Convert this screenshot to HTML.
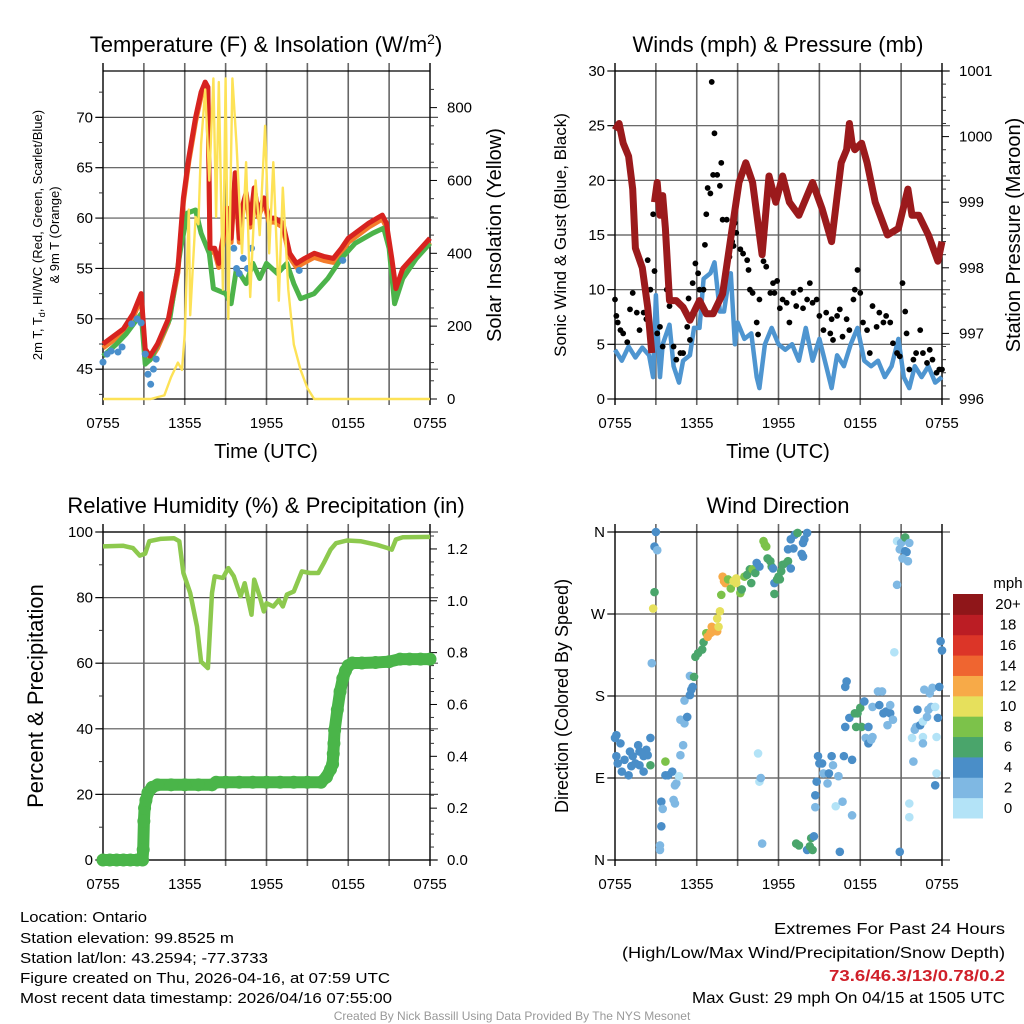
<!DOCTYPE html>
<html><head><meta charset="utf-8"><style>
html,body{margin:0;padding:0;background:#fff;}
svg{display:block;font-family:"Liberation Sans",Arial,sans-serif;}
</style></head><body>
<svg id="c" width="1024" height="1024" viewBox="0 0 1024 1024" xmlns="http://www.w3.org/2000/svg">
<g id="footer">
<text x="20" y="922" font-size="15" textLength="127" lengthAdjust="spacingAndGlyphs">Location: Ontario</text>
<text x="20" y="943" font-size="15" textLength="214" lengthAdjust="spacingAndGlyphs">Station elevation: 99.8525 m</text>
<text x="20" y="963" font-size="15" textLength="248" lengthAdjust="spacingAndGlyphs">Station lat/lon: 43.2594; -77.3733</text>
<text x="20" y="983" font-size="15" textLength="370" lengthAdjust="spacingAndGlyphs">Figure created on Thu, 2026-04-16, at 07:59 UTC</text>
<text x="20" y="1003" font-size="15" textLength="372" lengthAdjust="spacingAndGlyphs">Most recent data timestamp: 2026/04/16 07:55:00</text>
<text x="1005" y="934" font-size="16" text-anchor="end" textLength="231" lengthAdjust="spacingAndGlyphs">Extremes For Past 24 Hours</text>
<text x="1005" y="958" font-size="16" text-anchor="end" textLength="383" lengthAdjust="spacingAndGlyphs">(High/Low/Max Wind/Precipitation/Snow Depth)</text>
<text x="1005" y="981" font-size="16" font-weight="bold" fill="#d0202a" text-anchor="end" textLength="176" lengthAdjust="spacingAndGlyphs">73.6/46.3/13/0.78/0.2</text>
<text x="1005" y="1003" font-size="16" text-anchor="end" textLength="313" lengthAdjust="spacingAndGlyphs">Max Gust: 29 mph On 04/15 at 1505 UTC</text>
<text x="512" y="1020" font-size="12" fill="#999" text-anchor="middle">Created By Nick Bassill Using Data Provided By The NYS Mesonet</text>
</g>
</svg>
<script>
// ---- data (hours since 0755 UTC) ----
const timeLabels=["0755","1355","1955","0155","0755"];
const tempT=[[0,47.5],[0.8,48.3],[1.5,49],[2.2,50.5],[2.8,52.5],[3.1,47],[3.45,46.3],[4,47.5],[4.8,50],[5.5,55],[5.9,62],[6.3,66],[6.8,70],[7.2,72.5],[7.5,73.5],[7.7,73],[7.85,57],[8.2,57],[8.5,55.5],[8.8,58],[9.1,61],[9.4,58],[9.7,64.5],[10,58],[10.2,61],[10.5,62.5],[10.8,59.5],[11.1,63],[11.4,60.5],[11.8,62],[12.2,60],[12.6,60],[13.2,59.5],[13.7,56.5],[14.2,55.5],[14.8,56],[15.5,56.5],[16.2,56.2],[16.9,56],[17.5,57],[18,58],[18.8,58.8],[19.5,59.5],[20.5,60.3],[20.8,59.5],[21.2,56],[21.5,53],[22,55],[23,56.5],[24,58]];
const tempTd=[[0,46.3],[1,47.5],[1.7,48.5],[2.8,50.5],[3.1,45.5],[3.5,46],[4.2,48],[4.9,50],[5.7,57],[6.2,60.5],[6.8,60.8],[7.2,58.5],[7.8,56.5],[8.1,53],[9,52.5],[9.4,51.5],[9.8,55],[10.5,53.5],[11,55.5],[11.5,54],[12,55.5],[12.8,54.5],[13.5,55.5],[14,53.5],[14.5,52],[15.5,52.5],[16.5,54],[17.5,56],[18.5,57.5],[19.8,58.5],[20.6,59],[21,57],[21.4,51.5],[22,54],[23,56],[24,57.5]];
const heatIndex=[[0,45.7],[0.3,46.5],[0.6,46.8],[1.1,46.7],[1.4,47.2],[2.1,49.5],[2.5,50],[2.8,49.6],[3.1,46.5],[3.3,44.5],[3.5,43.5],[3.7,45],[3.9,46],[9.6,57],[9.8,55],[10,54.5],[10.3,56],[10.6,55],[10.9,57],[14.4,54.8],[17.6,55.8]];
const solar=[[0,0],[3.5,0],[4.5,10],[5,60],[5.5,100],[5.8,80],[6,180],[6.3,520],[6.4,230],[6.8,500],[7,480],[7.2,700],[7.5,850],[7.8,600],[8.1,880],[8.3,500],[8.5,870],[8.8,300],[9,880],[9.2,220],[9.5,880],[9.8,700],[10.2,400],[10.5,650],[10.8,280],[11.2,600],[11.5,450],[11.9,750],[12.2,400],[12.5,650],[12.9,270],[13.2,580],[13.6,300],[14,150],[14.5,80],[15,30],[15.5,0],[24,0]];
const pressure=[[0,1000.1],[0.3,1000.2],[0.6,999.9],[1,999.7],[1.3,999.2],[1.5,998.3],[2,998.0],[2.4,997.4],[2.7,996.7],null,[2.9,999.0],[3.1,999.3],[3.3,998.8],[3.5,999.1],[3.7,998.6],[4,997.5],[4.5,997.5],[5,997.4],[5.5,997.2],[6.2,997.5],[6.7,997.3],[7.2,997.3],[7.9,997.6],[8.6,998.6],[9.1,999.3],[9.6,999.6],[10.1,999.3],[10.8,998.2],[11.3,999.4],[11.8,999.0],[12.3,999.4],[12.8,999.0],[13.5,998.8],[14.5,999.3],[15.2,998.9],[15.9,998.4],[16.6,999.6],[17.0,999.8],[17.2,1000.2],[17.4,999.9],[17.6,999.8],[18.1,999.9],[18.5,999.6],[19.1,999.0],[20.0,998.5],[20.8,998.6],[21.5,999.2],[21.8,998.8],[22.3,998.8],[23.0,998.5],[23.7,998.1],[24,998.4]];
const wind=[[0,4.5],[0.5,3.5],[1,4.8],[1.5,3.8],[2,4.7],[2.5,4.0],[2.8,2.0],[3,9.5],[3.3,2],[3.5,5],[4,6.8],[4.3,3],[4.7,1.5],[5,3.5],[5.5,4],[5.8,6.5],[6.2,6.5],[6.5,11],[7,11.5],[7.3,12.5],[7.7,8],[8,8],[8.3,10.5],[8.5,11.5],[8.8,5],[9,7],[9.5,5.5],[10,6],[10.4,2],[10.6,1],[11,5],[11.5,6.5],[12,5],[12.5,4.5],[13,5],[13.5,3.5],[14,6.5],[14.5,3.5],[15,5.5],[15.5,3],[15.9,1],[16.3,4],[16.8,3],[17.3,5],[17.8,6.5],[18.3,3.5],[18.8,3],[19.3,3.5],[19.8,2],[20.3,3],[20.8,5.5],[21.2,2],[21.6,1],[22,3],[22.5,2],[23,3],[23.5,1.5],[24,2]];
const gust=[[0,9.1],[0.1,7.6],[0.2,7],[0.4,6.3],[0.6,6],[0.9,5.2],[1.1,8.2],[1.3,9.7],[1.6,7.9],[1.8,6.3],[2.1,7.9],[2.3,7.3],[2.4,12.7],[2.6,10],[2.8,16.9],[2.9,11.7],[3.1,6],[3.3,6.6],[3.5,4.8],[3.8,10],[4.0,8.5],[4.3,4.8],[4.5,3.6],[4.8,4.2],[5.0,4.2],[5.3,6.6],[5.4,9.2],[5.5,5.4],[5.7,10.6],[5.9,12.4],[6.1,11.5],[6.2,10],[6.5,10],[6.6,14.1],[6.7,16.9],[6.8,19.3],[7.0,18.8],[7.1,29],[7.2,20.5],[7.3,24.3],[7.5,20.5],[7.7,19.5],[7.8,21.6],[7.9,16.4],[8.2,16.4],[8.3,12.7],[8.4,13],[8.6,14.4],[8.7,14],[8.8,16.1],[8.9,15.2],[9.2,13.7],[9.4,13.3],[9.7,12.7],[9.8,11.8],[9.9,10],[10.1,9.7],[10.4,7],[10.5,5.9],[10.6,9.1],[10.9,12.6],[11.1,12.1],[11.4,9.7],[11.6,10.6],[11.7,9.7],[11.9,10.8],[12.1,8.3],[12.3,9.1],[12.6,8.8],[12.8,7],[13.1,9.7],[13.3,8.5],[13.6,10],[13.8,8.3],[14.1,9.1],[14.3,10.6],[14.5,8.8],[14.8,9.1],[15.0,7.6],[15.3,6.3],[15.5,7.9],[15.8,6],[15.9,7.3],[16.0,5.4],[16.3,7.6],[16.5,8.2],[16.7,5.7],[17.0,7.3],[17.2,6.3],[17.5,9.1],[17.6,10],[17.8,11.8],[18.0,9.7],[18.2,7],[18.5,6.3],[18.7,4.2],[18.9,8.5],[19.2,6.6],[19.4,7.9],[19.7,7],[19.9,7.6],[20.2,7],[20.4,5.1],[20.7,4.2],[20.9,3.9],[21.1,10.6],[21.3,8],[21.4,6],[21.6,2.7],[21.9,3.6],[22.1,4.2],[22.4,6.3],[22.6,4.2],[22.9,3.3],[23.1,4.5],[23.3,3.6],[23.6,2.4],[23.8,2.7],[24,2.7]];
const rh=[[0,95.6],[1.5,95.8],[2.2,95.1],[2.7,92.8],[3.1,93.4],[3.4,97.2],[4.2,97.9],[5.2,98.1],[5.6,97.2],[5.9,87.5],[6.4,81.4],[6.9,71.2],[7.2,60.5],[7.7,58.5],[8.0,81.4],[8.2,86.5],[8.8,86],[9.2,89],[9.6,86.5],[10.1,80.4],[10.4,84.4],[10.9,74.8],[11.1,85.5],[11.5,80.4],[11.8,75.8],[12.0,78.3],[12.5,77.3],[12.9,79.3],[13.2,77.3],[13.5,80.9],[14.0,81.9],[14.6,88],[15.2,87.5],[15.8,87.5],[16.2,90.5],[16.7,94.6],[17.1,96.6],[17.9,97.4],[18.9,97.2],[20.1,96.1],[20.9,95.1],[21.2,94.6],[21.5,97.7],[22.0,98.4],[24,98.5]];
const precip=[[0,0],[0.5,0],[1,0],[1.5,0],[2,0],[2.5,0],[2.9,0],[2.95,0.04],[3.0,0.15],[3.05,0.2],[3.15,0.23],[3.3,0.26],[3.6,0.28],[4,0.29],[5,0.29],[6,0.29],[7,0.29],[8,0.29],[8.3,0.3],[9,0.3],[10,0.3],[11,0.3],[12,0.3],[13,0.3],[14,0.3],[15,0.3],[16,0.3],[16.4,0.32],[16.7,0.35],[16.85,0.37],[16.9,0.41],[16.95,0.45],[17.0,0.5],[17.2,0.58],[17.4,0.65],[17.6,0.7],[17.8,0.73],[18.0,0.75],[18.3,0.76],[19,0.76],[20,0.762],[21,0.765],[21.8,0.775],[22.5,0.775],[23.3,0.775],[24,0.775]];
const dirTime=[0,0.1,0.4,0.1,0.2,0.5,1.0,0.7,1.1,1.3,1.7,1.8,2.1,2.3,2.4,1.8,1.5,1.2,2.1,2.6,2.6,2.7,2.8,2.9,2.9,3.0,3.1,3.3,3.3,3.4,3.4,3.5,3.7,3.7,3.9,4.2,4.4,4.5,4.7,4.3,4.4,4.8,5.0,4.8,5.1,5.3,5.1,5.5,5.6,5.7,5.5,5.8,5.9,6.1,6.4,6.5,6.7,6.8,7.0,7.1,7.2,7.5,7.6,7.5,7.7,7.8,7.9,8.0,8.1,8.3,8.5,8.7,8.9,8.9,9.2,9.3,9.5,9.7,9.9,10.0,10.1,10.3,10.4,10.6,10.9,11.0,11.1,11.2,11.4,11.5,11.6,11.7,11.9,12.0,12.1,11.7,12.2,12.3,12.6,12.7,12.9,12.7,12.9,13.1,13.2,13.4,13.8,13.9,14.1,13.7,13.8,10.5,10.6,10.7,10.8,13.3,13.5,14.1,14.3,14.4,14.6,14.5,14.7,14.7,14.8,14.9,15.0,15.2,15.3,15.6,15.7,15.9,16.0,16.2,16.4,16.5,16.7,16.8,16.9,17.0,16.9,17.2,17.4,17.4,17.6,17.7,17.8,18.0,18.1,18.3,18.4,18.6,18.8,18.9,18.6,18.9,19.3,19.6,19.4,19.7,19.9,20.0,20.2,20.4,20.2,20.5,20.7,20.7,20.9,21.0,21.3,21.3,21.4,21.1,21.5,21.6,20.9,21.6,21.6,21.8,21.9,22.0,22.1,22.2,22.4,22.6,22.6,22.6,22.7,22.9,23.0,23.1,23.2,23.3,23.5,23.6,23.6,23.5,23.7,23.8,23.9,24.0];
const dirDeg=[134,137,128,114,106,97,93,110,119,114,126,119,114,121,115,104,106,103,97,134,104,216,276,294,344,360,340,16,11,37,64,56,108,93,93,97,82,84,92,66,62,115,126,154,150,157,175,181,187,190,202,201,223,227,231,239,249,245,249,256,251,251,256,265,273,291,311,306,304,308,298,306,309,304,293,297,311,313,319,304,319,315,326,322,350,346,344,331,328,322,320,304,308,311,308,292,317,324,326,328,320,341,352,342,357,359,348,352,359,336,333,117,86,90,18,18,16,11,15,24,26,11,58,71,86,114,106,106,95,84,95,114,104,59,92,9,64,114,190,196,146,156,110,49,161,146,161,167,146,174,134,128,132,135,146,168,185,185,170,161,163,148,161,154,170,228,302,350,341,348,354,339,338,331,328,348,9,62,47,134,108,143,146,165,148,135,128,152,187,157,165,183,168,189,168,135,95,82,156,190,240,230];
const dirSpeed=[5,5,5,5,5,5,5,5,5,5,5,5,5,5,5,5,5,5,5,5,7,3,11,7,5,5,3,3,3,5,5,3,9,5,5,5,3,3,1,3,3,3,3,3,3,5,3,5,5,5,3,7,7,7,7,7,9,13,13,13,13,13,11,11,11,9,13,13,13,9,9,11,11,11,9,7,9,7,7,7,9,7,5,5,9,9,9,7,7,7,5,5,7,7,7,7,7,7,7,7,5,5,5,5,5,7,5,5,5,5,5,1,1,3,3,7,7,5,7,7,5,7,3,5,5,5,5,5,3,3,5,5,3,1,3,5,3,5,5,5,5,5,5,3,7,7,7,7,7,5,3,5,3,3,5,3,3,3,5,5,5,3,5,3,3,1,3,1,3,3,7,5,5,3,3,3,5,1,1,1,3,3,3,5,5,1,3,1,3,3,3,3,3,3,1,1,1,5,5,5,5,5,5];
const speedBins=["0","2","4","6","8","10","12","14","16","18","20+"];
const binColors=["#b3e3f7","#7fb8e3","#4a8ec8","#4aa56b","#7cc24a","#e6e05c","#f7aa48","#ef6530","#dc3528","#bb1d24","#8f1619"];

const NS="http://www.w3.org/2000/svg";
const svg=document.getElementById('c');
function mk(tag,attrs,parent){const e=document.createElementNS(NS,tag);for(const k in attrs)e.setAttribute(k,attrs[k]);(parent||svg).appendChild(e);return e;}
function txt(s,attrs,parent){const e=mk('text',attrs,parent);e.textContent=s;return e;}

function panel(o){
  const g=mk('g',{});
  
  
  const X=h=>o.x0+(h/24)*(o.x1-o.x0);
  const Y=v=>o.y1-(v-o.lmin)/(o.lmax-o.lmin)*(o.y1-o.y0);
  const R=v=>o.y1-(v-o.rmin)/(o.rmax-o.rmin)*(o.y1-o.y0);
  o.gridVals.forEach(v=>{const yy=Y(v);const l=mk('line',{x1:o.x0-8,x2:o.x1+8,y1:yy,y2:yy,stroke:'#555','stroke-width':1.2},g);});
  for(let i=0;i<=8;i++){const xx=X(i*3);const l=mk('line',{x1:xx,x2:xx,y1:o.y0-8,y2:o.y1+6,stroke:(i==0||i==8)?'#111':'#666','stroke-width':(i==0||i==8)?1.5:1.6},g);}
  mk('line',{x1:o.x0,x2:o.x1,y1:o.y0,y2:o.y0,stroke:'#000','stroke-width':1.2},g);
  mk('line',{x1:o.x0,x2:o.x1,y1:o.y1,y2:o.y1,stroke:'#000','stroke-width':1.2},g);
  o.lTicks.forEach((v,i)=>{const yy=Y(v);mk('line',{x1:o.x0-7,x2:o.x0,y1:yy,y2:yy,stroke:'#000'},g);const t=txt(o.lLabels[i],{x:o.x0-10,y:yy+5,'font-size':15,'text-anchor':'end'},g);});
  (o.lMinor||[]).forEach(v=>{const yy=Y(v);mk('line',{x1:o.x0-4,x2:o.x0,y1:yy,y2:yy,stroke:'#333'},g);});
  if(o.rTicks){o.rTicks.forEach((v,i)=>{const yy=R(v);mk('line',{x1:o.x1,x2:o.x1+7,y1:yy,y2:yy,stroke:'#000'},g);const t=txt(o.rLabels[i],{x:o.x1+17,y:yy+5,'font-size':15},g);});
  (o.rMinor||[]).forEach(v=>{const yy=R(v);mk('line',{x1:o.x1,x2:o.x1+4,y1:yy,y2:yy,stroke:'#333'},g);});}
  timeLabels.forEach((s,i)=>{const t=txt(s,{x:X(i*6),y:o.y1+29,'font-size':15,'text-anchor':'middle'},g);});
  const tt=txt('',{x:o.titleX,y:o.y0-19,'font-size':22,'text-anchor':'middle'},g);
  tt.innerHTML=o.title;
  
  return {g,X,Y,R};
}
function pathOf(pts,X,Y){let d='',pen=false;pts.forEach(p=>{if(!p){pen=false;return;}d+=(pen?'L':'M')+X(p[0]).toFixed(1)+','+Y(p[1]).toFixed(1);pen=true;});return d;}

// ---- Panel 1 ----
const p1=panel({name:'temperature-panel',x0:103,x1:430,y0:71,y1:399,lmin:42.04,lmax:74.6,rmin:0,rmax:900.5,gridVals:[45,50,55,60,65,70],
 lTicks:[45,50,55,60,65,70],lLabels:["45","50","55","60","65","70"],lMinor:[42.5,47.5,52.5,57.5,62.5,67.5,72.5],
 rTicks:[0,200,400,600,800],rLabels:["0","200","400","600","800"],rMinor:[50,100,150,250,300,350,450,500,550,650,700,750,850],title:'Temperature (F) &amp; Insolation (W/m<tspan font-size="14" dy="-8">2</tspan><tspan dy="8">)</tspan>',titleX:266});
let e;
e=mk('path',{d:pathOf(tempT.map(p=>[p[0],p[1]-0.4]),p1.X,p1.Y),fill:'none',stroke:'#f47b2a','stroke-width':5,'stroke-linejoin':'round'},p1.g);

e=mk('path',{d:pathOf(tempTd,p1.X,p1.Y),fill:'none',stroke:'#4cb34a','stroke-width':5,'stroke-linejoin':'round'},p1.g);

e=mk('path',{d:pathOf(tempT,p1.X,p1.Y),fill:'none',stroke:'#d7231f','stroke-width':5,'stroke-linejoin':'round'},p1.g);

heatIndex.forEach(p=>{const c=mk('circle',{cx:p1.X(p[0]),cy:p1.Y(p[1]),r:3.5,fill:'#4a8fcb'},p1.g);});
e=mk('path',{d:pathOf(solar,p1.X,p1.R),fill:'none',stroke:'#fde257','stroke-width':2.4,'stroke-linejoin':'round'},p1.g);

e=txt('Time (UTC)',{x:266,y:458,'font-size':20,'text-anchor':'middle'},p1.g);
e=txt('',{x:0,y:0,'font-size':13,'text-anchor':'middle',transform:'translate(42,235) rotate(-90)'},p1.g);
e.innerHTML='2m T, T<tspan font-size="9" dy="3">d</tspan><tspan dy="-3">, HI/WC (Red, Green, Scarlet/Blue)</tspan>';

e=txt('& 9m T (Orange)',{x:0,y:0,'font-size':13,'text-anchor':'middle',transform:'translate(59,235) rotate(-90)'},p1.g);

e=txt('Solar Insolation (Yellow)',{x:0,y:0,'font-size':20,'text-anchor':'middle',transform:'translate(501,235) rotate(-90)'},p1.g);


// ---- Panel 2 ----
const p2=panel({name:'wind-panel',x0:615,x1:942,y0:71,y1:399,lmin:0,lmax:30,rmin:996,rmax:1001,gridVals:[0,5,10,15,20,25,30],
 lTicks:[0,5,10,15,20,25,30],lLabels:["0","5","10","15","20","25","30"],
 rTicks:[996,997,998,999,1000,1001],rLabels:["996","997","998","999","1000","1001"],rMinor:[996.2,996.4,996.6,996.8,997.2,997.4,997.6,997.8,998.2,998.4,998.6,998.8,999.2,999.4,999.6,999.8,1000.2,1000.4,1000.6,1000.8],title:'Winds (mph) &amp; Pressure (mb)',titleX:778});
e=mk('path',{d:pathOf(wind,p2.X,p2.Y),fill:'none',stroke:'#4e95d0','stroke-width':4.5,'stroke-linejoin':'round'},p2.g);

gust.forEach(p=>{const c=mk('circle',{cx:p2.X(p[0]),cy:p2.Y(p[1]),r:2.9,fill:'#000'},p2.g);});
e=mk('path',{d:pathOf(pressure,p2.X,p2.R),fill:'none',stroke:'#9b1a1c','stroke-width':7,'stroke-linejoin':'round'},p2.g);

e=txt('Time (UTC)',{x:778,y:458,'font-size':20,'text-anchor':'middle'},p2.g);
e=txt('Sonic Wind & Gust (Blue, Black)',{x:0,y:0,'font-size':17,'text-anchor':'middle',transform:'translate(566,235) rotate(-90)'},p2.g);

e=txt('Station Pressure (Maroon)',{x:0,y:0,'font-size':20,'text-anchor':'middle',transform:'translate(1020,235) rotate(-90)'},p2.g);


// ---- Panel 3 ----
const p3=panel({name:'humidity-panel',x0:103,x1:430,y0:532,y1:860,lmin:0,lmax:100,rmin:0,rmax:1.2654,gridVals:[0,20,40,60,80,100],
 lTicks:[0,20,40,60,80,100],lLabels:["0","20","40","60","80","100"],lMinor:[10,30,50,70,90],
 rTicks:[0,0.2,0.4,0.6,0.8,1.0,1.2],rLabels:["0.0","0.2","0.4","0.6","0.8","1.0","1.2"],rMinor:[0.05,0.1,0.15,0.25,0.3,0.35,0.45,0.5,0.55,0.65,0.7,0.75,0.85,0.9,0.95,1.05,1.1,1.15,1.25],title:'Relative Humidity (%) &amp; Precipitation (in)',titleX:266});
e=mk('path',{d:pathOf(rh,p3.X,p3.Y),fill:'none',stroke:'#8dc94e','stroke-width':4.5,'stroke-linejoin':'round'},p3.g);

e=mk('path',{d:pathOf(precip,p3.X,p3.R),fill:'none',stroke:'#4ab549','stroke-width':12,'stroke-linejoin':'round','stroke-linecap':'round'},p3.g);

precip.forEach(p=>{const c=mk('circle',{cx:p3.X(p[0]),cy:p3.R(p[1]),r:6.5,fill:'#4ab549'},p3.g);});
e=txt('Percent & Precipitation',{x:0,y:0,'font-size':22,'text-anchor':'middle',transform:'translate(43,696) rotate(-90)'},p3.g);


// ---- Panel 4 ----
const p4=panel({name:'wind-direction-panel',x0:615,x1:942,y0:532,y1:860,lmin:0,lmax:360,gridVals:[0,90,180,270,360],
 lTicks:[0,90,180,270,360],lLabels:["N","E","S","W","N"],title:'Wind Direction',titleX:778});
dirTime.forEach((h,i)=>{const sp=(dirSpeed[i]===undefined)?5:dirSpeed[i];const b=Math.min(10,Math.floor(sp/2));const c=mk('circle',{cx:p4.X(h),cy:p4.Y(dirDeg[i]),r:4.3,fill:binColors[b]},p4.g);});
e=txt('Direction (Colored By Speed)',{x:0,y:0,'font-size':18,'text-anchor':'middle',transform:'translate(568,696) rotate(-90)'},p4.g);

const cb=mk('g',{});
const cbTop=594,cbH=224/11;
speedBins.forEach((s,i)=>{const yy=cbTop+(10-i)*cbH;const r=mk('rect',{x:953,y:yy,width:30,height:cbH+0.5,fill:binColors[i]},cb);
 const t=txt(s,{x:1008,y:yy+cbH/2+5,'font-size':15,'text-anchor':'middle'},cb);});
e=txt('mph',{x:1008,y:588,'font-size':15,'text-anchor':'middle'},cb);
</script>
</body></html>
